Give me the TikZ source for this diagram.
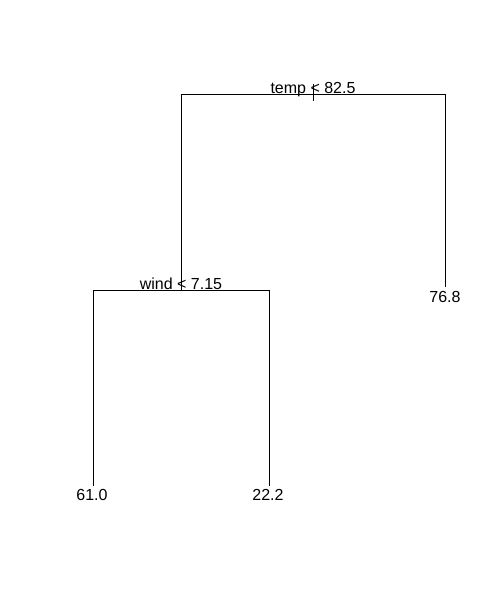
\documentclass[tikz,border=0pt]{standalone}
\usepackage{fontspec}
\setmainfont{Liberation Sans}
\begin{document}
\begin{tikzpicture}[x=1pt,y=-1pt,
  lbl/.style={inner sep=0pt,anchor=base,font=\fontsize{16}{19}\selectfont},
  edge/.style={draw=black,line width=0.9pt}]
\useasboundingbox (0,0) rectangle (500,600);
% tree points
\coordinate (root) at (313,94);
\coordinate (rtop) at (313,84);
\coordinate (rbot) at (313,101);
\coordinate (rl) at (181,94);
\coordinate (rr) at (445,94);
\coordinate (wind) at (181,290);
\coordinate (wl) at (93,290);
\coordinate (wr) at (269,290);
\coordinate (leafA) at (93,486);
\coordinate (leafB) at (269,486);
\coordinate (leafC) at (445,287);
% labels
\node[lbl] (ltemp) at (313,93) {temp < 82.5};
\node[lbl] (lwind) at (181,289) {wind < 7.15};
\node[lbl] (lA) at (92,500) {61.0};
\node[lbl] (lB) at (268,500) {22.2};
\node[lbl] (lC) at (445,302) {76.8};
% edges
\draw[edge] (rtop) -- (rbot);
\draw[edge] (leafC) -- (rr) -- (rl) -- (wind);
\draw[edge] (leafA) -- (wl) -- (wr) -- (leafB);
\end{tikzpicture}
\end{document}
